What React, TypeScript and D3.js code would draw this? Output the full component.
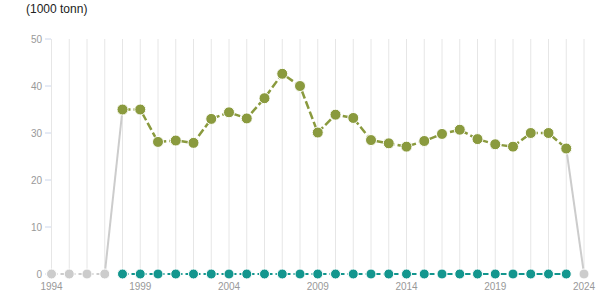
import React from "react";
import * as d3 from "d3";

const years: number[] = d3.range(1994, 2025);
const greenYears: number[] = d3.range(1998, 2024);
const greenValues: number[] = [35, 35, 28.1, 28.4, 27.9, 33, 34.4, 33.1, 37.4, 42.6, 40, 30.1, 33.9, 33.2, 28.5, 27.8, 27.1, 28.3, 29.8, 30.7, 28.7, 27.6, 27.1, 30, 30, 26.7];
const tealValues: number[] = greenYears.map(() => 0);
const grayLeftYears: number[] = [1994, 1995, 1996, 1997];
const grayLeftValues: number[] = [0, 0, 0, 0];
const grayRightYears: number[] = [2024];
const grayRightValues: number[] = [0];
const yTicks: number[] = [0, 10, 20, 30, 40, 50];
const xTickLabels: number[] = [1994, 1999, 2004, 2009, 2014, 2019, 2024];
const unitLabel = "(1000 tonn)";

const W = 615;
const H = 305;
const GREEN = "#8a9a3e";
const TEAL = "#13968e";
const GRAY = "#cccccc";

export default function App() {
  const x = d3.scaleLinear().domain([1994, 2024]).range([51.5, 584]);
  const y = d3.scaleLinear().domain([0, 50]).range([274, 39]);
  const line = d3.line<[number, number]>().x((d) => x(d[0])).y((d) => y(d[1]));

  const greenPts: [number, number][] = greenYears.map((yr, i) => [yr, greenValues[i]]);
  const tealPts: [number, number][] = greenYears.map((yr, i) => [yr, tealValues[i]]);
  const grayLeftPts: [number, number][] = grayLeftYears.map((yr, i) => [yr, grayLeftValues[i]]);
  const grayRightPts: [number, number][] = grayRightYears.map((yr, i) => [yr, grayRightValues[i]]);
  const joinLeft: [number, number][] = [grayLeftPts[grayLeftPts.length - 1], greenPts[0]];
  const joinRight: [number, number][] = [greenPts[greenPts.length - 1], grayRightPts[0]];

  const font = "'Liberation Sans', Arial, sans-serif";

  return (
    <svg width={W} height={H} style={{ position: "absolute", left: 0, top: 0, fontFamily: font }}>
      <rect width={W} height={H} fill="#fff" />
      <text x={26} y={13} fontSize={12} fill="#222">{unitLabel}</text>
      {years.map((yr) => (
        <line key={yr} x1={x(yr)} x2={x(yr)} y1={39} y2={274} stroke="#e6e6e6" strokeWidth={1} />
      ))}
      {yTicks.map((t) => (
        <g key={t}>
          <line x1={45} x2={51} y1={y(t)} y2={y(t)} stroke="#ccd6eb" strokeWidth={1} />
          <text x={42} y={y(t) + 4} fontSize={10} fill="#999" textAnchor="end">{t}</text>
        </g>
      ))}
      {xTickLabels.map((yr) => (
        <text key={yr} x={x(yr)} y={290} fontSize={10} fill="#999" textAnchor="middle">{yr}</text>
      ))}
      <path d={line(grayLeftPts) || ""} fill="none" stroke={GRAY} strokeWidth={2} strokeDasharray="6,3" />
      <path d={line(joinLeft) || ""} fill="none" stroke={GRAY} strokeWidth={2} />
      <path d={line(joinRight) || ""} fill="none" stroke={GRAY} strokeWidth={2} />
      <path d={line(tealPts) || ""} fill="none" stroke={TEAL} strokeWidth={2} strokeDasharray="6,3" />
      <path d={line(greenPts) || ""} fill="none" stroke={GREEN} strokeWidth={2.5} strokeDasharray="8,3" />
      {grayLeftPts.concat(grayRightPts).map((p, i) => (
        <circle key={"g" + i} cx={x(p[0])} cy={y(p[1])} r={5} fill={GRAY} stroke="#fff" strokeWidth={1} />
      ))}
      {tealPts.map((p, i) => (
        <circle key={"t" + i} cx={x(p[0])} cy={y(p[1])} r={5} fill={TEAL} stroke="#fff" strokeWidth={1} />
      ))}
      {greenPts.map((p, i) => (
        <circle key={"v" + i} cx={x(p[0])} cy={y(p[1])} r={5.5} fill={GREEN} stroke="#fff" strokeWidth={1} />
      ))}
    </svg>
  );
}
